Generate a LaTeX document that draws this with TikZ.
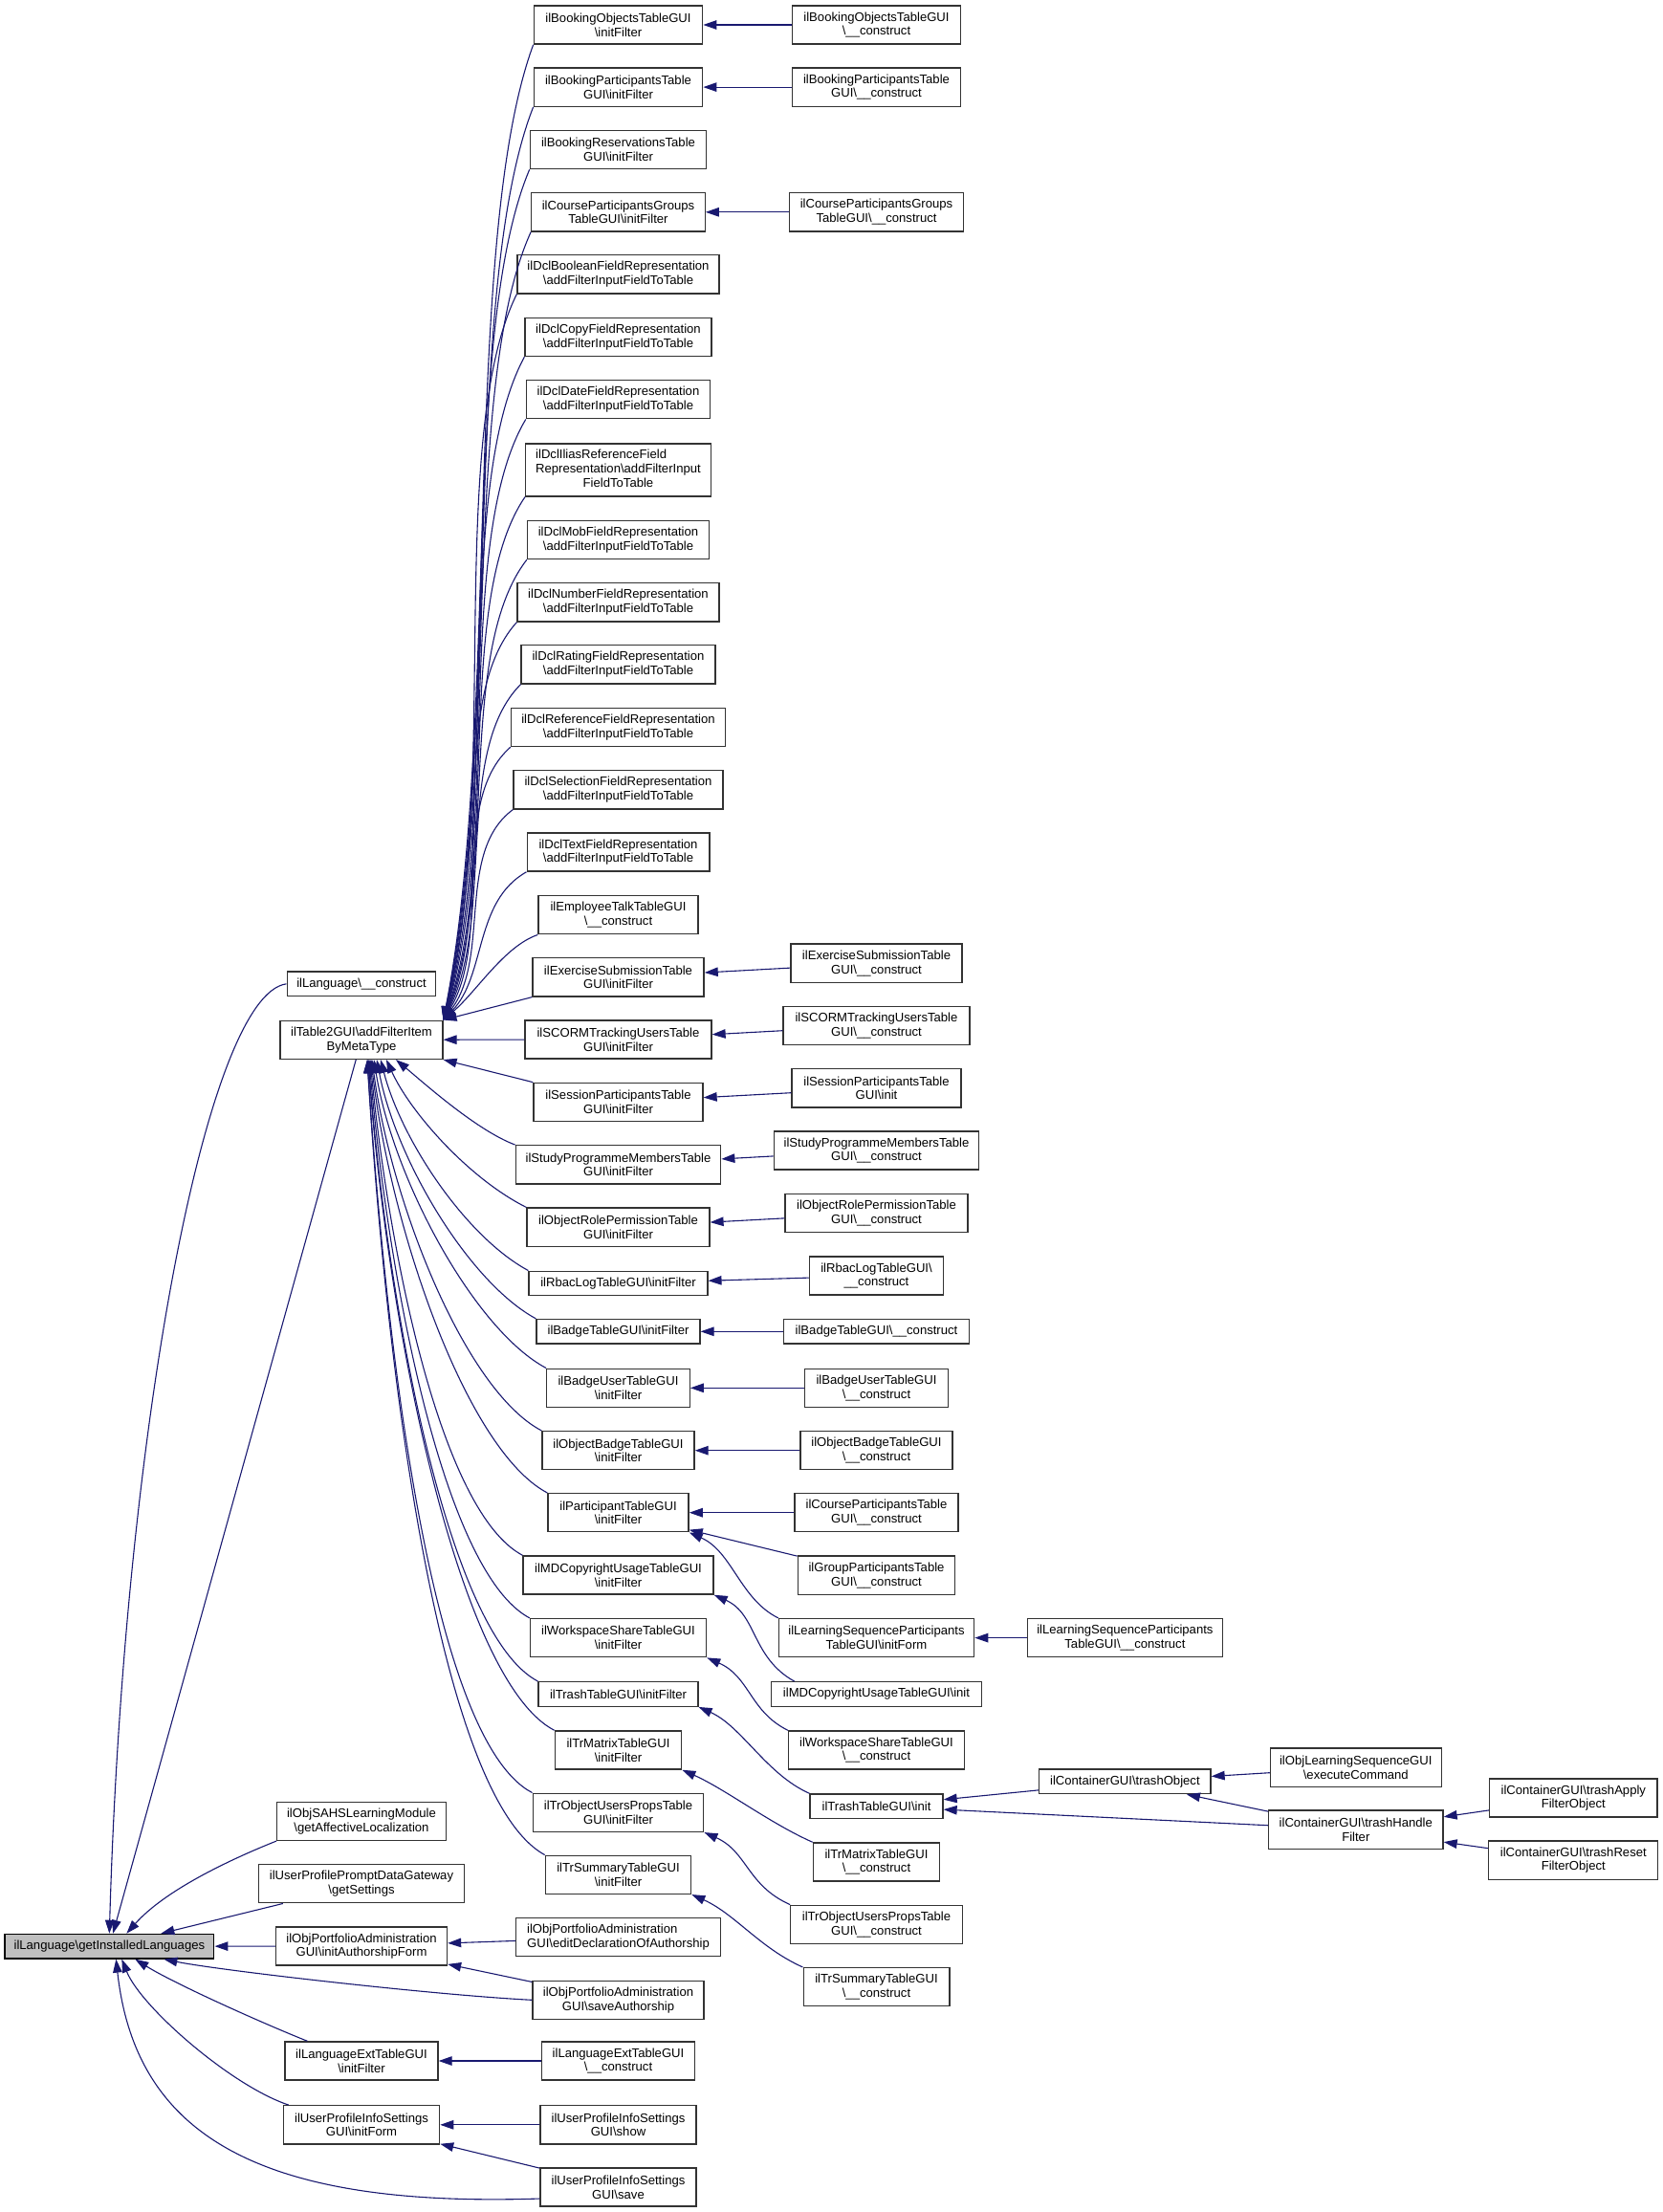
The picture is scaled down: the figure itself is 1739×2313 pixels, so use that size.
\documentclass[tikz,border=0pt]{standalone}
\usepackage{fontspec}
\setmainfont{Liberation Sans}
\usetikzlibrary{arrows.meta}
\definecolor{dxblue}{HTML}{191970}
\definecolor{dxgrey}{HTML}{BFBFBF}
\newcommand\bsl{\textbackslash}
\newcommand\dxfont{\fontsize{13.1}{14.7}\selectfont}
\tikzset{
  fn/.style={draw=black!80, line width=1.3pt, fill=white, inner sep=0pt, align=center, font=\dxfont},
  fnone/.style={fn, minimum height=25.6pt},
  fntwo/.style={fn, minimum height=40.2pt},
  fnthree/.style={fn, minimum height=55pt},
  call/.style={draw=dxblue, line width=1.1pt, -{Triangle[length=14pt,width=9.5pt]}},
}
\begin{document}
\begin{tikzpicture}[x=1pt,y=-1pt]
\useasboundingbox (0,0) rectangle (1739,2313);
% the function itself
\node[fnone, fill=dxgrey, draw=black, minimum width=218.8pt] (root) at (114.4,2035.2) {ilLanguage\bsl getInstalledLanguages};
% first level callers
\node[fnone, minimum width=155.6pt] (lang) at (378,1028.8) {ilLanguage\bsl\_\_construct};
\node[fntwo, minimum width=169.8pt] (t2gui) at (378,1087.3) {ilTable2GUI\bsl addFilterItem\\ByMetaType};
\node[fntwo, minimum width=176.6pt] (sahs) at (378,1904.3) {ilObjSAHSLearningModule\\\bsl getAffectiveLocalization};
\node[fntwo, minimum width=215pt] (upp) at (378,1969.7) {ilUserProfilePromptDataGateway\\\bsl getSettings};
\node[fntwo, minimum width=179pt] (auth) at (378,2035) {ilObjPortfolioAdministration\\GUI\bsl initAuthorshipForm};
\node[fntwo, minimum width=160pt] (lxF) at (378,2155) {ilLanguageExtTableGUI\\\bsl initFilter};
\node[fntwo, minimum width=163.2pt] (upiF) at (378,2221.8) {ilUserProfileInfoSettings\\GUI\bsl initForm};
% second level callers
\node[fntwo, minimum width=176.4pt] (bookobjF) at (646.5,26) {ilBookingObjectsTableGUI\\\bsl initFilter};
\node[fntwo, minimum width=176.4pt] (bookpartF) at (646.5,91.1) {ilBookingParticipantsTable\\GUI\bsl initFilter};
\node[fntwo, minimum width=184.3pt] (bookresF) at (646.5,156.5) {ilBookingReservationsTable\\GUI\bsl initFilter};
\node[fntwo, minimum width=181.4pt] (crsgrpF) at (646.5,221.8) {ilCourseParticipantsGroups\\TableGUI\bsl initFilter};
\node[fntwo, minimum width=211pt] (dclboolF) at (646.5,286.8) {ilDclBooleanFieldRepresentation\\\bsl addFilterInputFieldToTable};
\node[fntwo, minimum width=195pt] (dclcopyF) at (646.5,352.5) {ilDclCopyFieldRepresentation\\\bsl addFilterInputFieldToTable};
\node[fntwo, minimum width=192.1pt] (dcldateF) at (646.5,417.7) {ilDclDateFieldRepresentation\\\bsl addFilterInputFieldToTable};
\node[fnthree, minimum width=193.6pt] (dclilrefF) at (646.5,491.4) {\begin{tabular}{@{}l@{}}ilDclIliasReferenceField\\Representation\bsl addFilterInput\\\multicolumn{1}{@{}c@{}}{FieldToTable}\end{tabular}};
\node[fntwo, minimum width=190pt] (dclmobF) at (646.5,564.5) {ilDclMobFieldRepresentation\\\bsl addFilterInputFieldToTable};
\node[fntwo, minimum width=211pt] (dclnumF) at (646.5,629.9) {ilDclNumberFieldRepresentation\\\bsl addFilterInputFieldToTable};
\node[fntwo, minimum width=202.8pt] (dclratF) at (646.5,694.9) {ilDclRatingFieldRepresentation\\\bsl addFilterInputFieldToTable};
\node[fntwo, minimum width=223.9pt] (dclrefF) at (646.5,760.4) {ilDclReferenceFieldRepresentation\\\bsl addFilterInputFieldToTable};
\node[fntwo, minimum width=218.9pt] (dclselF) at (646.5,825.8) {ilDclSelectionFieldRepresentation\\\bsl addFilterInputFieldToTable};
\node[fntwo, minimum width=190.7pt] (dcltextF) at (646.5,891) {ilDclTextFieldRepresentation\\\bsl addFilterInputFieldToTable};
\node[fntwo, minimum width=167.1pt] (empF) at (646.5,956.7) {ilEmployeeTalkTableGUI\\\bsl\_\_construct};
\node[fntwo, minimum width=179.2pt] (exsubF) at (646.5,1021.9) {ilExerciseSubmissionTable\\GUI\bsl initFilter};
\node[fntwo, minimum width=195pt] (scormF) at (646.5,1087) {ilSCORMTrackingUsersTable\\GUI\bsl initFilter};
\node[fntwo, minimum width=177pt] (sessF) at (646.5,1152.4) {ilSessionParticipantsTable\\GUI\bsl initFilter};
\node[fntwo, minimum width=214.5pt] (studyF) at (646.5,1217.8) {ilStudyProgrammeMembersTable\\GUI\bsl initFilter};
\node[fntwo, minimum width=190.9pt] (orpF) at (646.5,1283.2) {ilObjectRolePermissionTable\\GUI\bsl initFilter};
\node[fnone, minimum width=186.8pt] (rbacF) at (646.5,1342) {ilRbacLogTableGUI\bsl initFilter};
\node[fnone, minimum width=170.9pt] (badgeF) at (646.5,1392.3) {ilBadgeTableGUI\bsl initFilter};
\node[fntwo, minimum width=149.5pt] (bduserF) at (646.5,1451.3) {ilBadgeUserTableGUI\\\bsl initFilter};
\node[fntwo, minimum width=159.1pt] (objbdF) at (646.5,1516.7) {ilObjectBadgeTableGUI\\\bsl initFilter};
\node[fntwo, minimum width=147.2pt] (partF) at (646.5,1581.7) {ilParticipantTableGUI\\\bsl initFilter};
\node[fntwo, minimum width=199pt] (mdcF) at (646.5,1647) {ilMDCopyrightUsageTableGUI\\\bsl initFilter};
\node[fntwo, minimum width=184.2pt] (wsF) at (646.5,1712.6) {ilWorkspaceShareTableGUI\\\bsl initFilter};
\node[fnone, minimum width=166.8pt] (trashF) at (646.5,1771.5) {ilTrashTableGUI\bsl initFilter};
\node[fntwo, minimum width=132.5pt] (trmF) at (646.5,1830) {ilTrMatrixTableGUI\\\bsl initFilter};
\node[fntwo, minimum width=178.6pt] (troF) at (646.5,1895.3) {ilTrObjectUsersPropsTable\\GUI\bsl initFilter};
\node[fntwo, minimum width=152.4pt] (trsF) at (646.5,1960.3) {ilTrSummaryTableGUI\\\bsl initFilter};
\node[fntwo, minimum width=213.4pt] (editA) at (646.5,2025.7) {\begin{tabular}{@{}l@{}}ilObjPortfolioAdministration\\GUI\bsl editDeclarationOfAuthorship\end{tabular}};
\node[fntwo, minimum width=179pt] (saveA) at (646.5,2091.3) {ilObjPortfolioAdministration\\GUI\bsl saveAuthorship};
\node[fntwo, minimum width=160.5pt] (lxC) at (646.5,2155) {ilLanguageExtTableGUI\\\bsl\_\_construct};
\node[fntwo, minimum width=163.2pt] (upiShow) at (646.5,2221.8) {ilUserProfileInfoSettings\\GUI\bsl show};
\node[fntwo, minimum width=163.2pt] (upiSave) at (646.5,2287) {ilUserProfileInfoSettings\\GUI\bsl save};
% third level callers
\node[fntwo, minimum width=176.4pt] (bookobjC) at (916.5,26) {ilBookingObjectsTableGUI\\\bsl\_\_construct};
\node[fntwo, minimum width=176.4pt] (bookpartC) at (916.5,91.1) {ilBookingParticipantsTable\\GUI\bsl\_\_construct};
\node[fntwo, minimum width=181.4pt] (crsgrpC) at (916.5,221.8) {ilCourseParticipantsGroups\\TableGUI\bsl\_\_construct};
\node[fntwo, minimum width=178.9pt] (exsubC) at (916.5,1007.2) {ilExerciseSubmissionTable\\GUI\bsl\_\_construct};
\node[fntwo, minimum width=195pt] (scormC) at (916.5,1072.4) {ilSCORMTrackingUsersTable\\GUI\bsl\_\_construct};
\node[fntwo, minimum width=177pt] (sessI) at (916.5,1137.9) {ilSessionParticipantsTable\\GUI\bsl init};
\node[fntwo, minimum width=214.6pt] (studyC) at (916.5,1203) {ilStudyProgrammeMembersTable\\GUI\bsl\_\_construct};
\node[fntwo, minimum width=191pt] (orpC) at (916.5,1268.7) {ilObjectRolePermissionTable\\GUI\bsl\_\_construct};
\node[fntwo, minimum width=140.2pt] (rbacC) at (916.5,1334) {ilRbacLogTableGUI\bsl\\\_\_construct};
\node[fnone, minimum width=194.2pt] (badgeC) at (916.5,1392.3) {ilBadgeTableGUI\bsl\_\_construct};
\node[fntwo, minimum width=149.4pt] (bduserC) at (916.5,1451.3) {ilBadgeUserTableGUI\\\bsl\_\_construct};
\node[fntwo, minimum width=159pt] (objbdC) at (916.5,1516.7) {ilObjectBadgeTableGUI\\\bsl\_\_construct};
\node[fntwo, minimum width=171pt] (crspartC) at (916.5,1581.7) {ilCourseParticipantsTable\\GUI\bsl\_\_construct};
\node[fntwo, minimum width=164.2pt] (grppartC) at (916.5,1647.2) {ilGroupParticipantsTable\\GUI\bsl\_\_construct};
\node[fntwo, minimum width=204.2pt] (lspF) at (916.5,1712.6) {ilLearningSequenceParticipants\\TableGUI\bsl initForm};
\node[fnone, minimum width=220.4pt] (mdcI) at (916.5,1771.5) {ilMDCopyrightUsageTableGUI\bsl init};
\node[fntwo, minimum width=184.2pt] (wsC) at (916.5,1830) {ilWorkspaceShareTableGUI\\\bsl\_\_construct};
\node[fnone, minimum width=139pt] (trashI) at (916.5,1888.7) {ilTrashTableGUI\bsl init};
\node[fntwo, minimum width=132.4pt] (trmC) at (916.5,1947) {ilTrMatrixTableGUI\\\bsl\_\_construct};
\node[fntwo, minimum width=179.4pt] (troC) at (916.5,2012.3) {ilTrObjectUsersPropsTable\\GUI\bsl\_\_construct};
\node[fntwo, minimum width=152.7pt] (trsC) at (916.5,2077.7) {ilTrSummaryTableGUI\\\bsl\_\_construct};
% deeper callers
\node[fntwo, minimum width=204.2pt] (lspC) at (1176.4,1712.6) {ilLearningSequenceParticipants\\TableGUI\bsl\_\_construct};
\node[fnone, minimum width=179.2pt] (trashObj) at (1176.4,1862.9) {ilContainerGUI\bsl trashObject};
\node[fntwo, minimum width=178.8pt] (execCmd) at (1417.8,1848.2) {ilObjLearningSequenceGUI\\\bsl executeCommand};
\node[fntwo, minimum width=182.4pt] (trashHF) at (1417.8,1913.2) {ilContainerGUI\bsl trashHandle\\Filter};
\node[fntwo, minimum width=175.6pt] (trashApply) at (1645.3,1880) {ilContainerGUI\bsl trashApply\\FilterObject};
\node[fntwo, minimum width=177pt] (trashReset) at (1645.3,1945.2) {ilContainerGUI\bsl trashReset\\FilterObject};

% calls into getInstalledLanguages
\draw[call] (lang.west) .. controls +(-84,11) and +(15,-522) .. ([xshift=110pt]root.north west);
\draw[call] (t2gui) -- (root);
\draw[call] (sahs.south west) .. controls +(-50,20) and +(40,-45) .. ([xshift=128pt]root.north west);
\draw[call] ([xshift=26pt]upp.south west) -- ([xshift=164pt]root.north west);
\draw[call] (auth) -- (root);
\draw[call] (saveA.west) .. controls +(-100,-5) and +(60,12) .. ([xshift=167pt]root.south west);
\draw[call] ([xshift=24pt]lxF.north west) .. controls +(-50,-20) and +(40,25) .. ([xshift=137pt]root.south west);
\draw[call] ([xshift=6pt]upiF.north west) .. controls +(-60,-20) and +(20,50) .. ([xshift=123pt]root.south west);
\draw[call] ([yshift=-12pt]upiSave.west) .. controls +(-300,10) and +(20,180) .. ([xshift=117pt]root.south west);

% calls into addFilterItemByMetaType, from above
\draw[call] (bookobjF.south west) .. controls +(-75,204) and +(60,-306) .. (t2gui.north east);
\draw[call] (bookpartF.south west) .. controls +(-75,191) and +(60,-287) .. (t2gui.north east);
\draw[call] (bookresF.south west) .. controls +(-75,178) and +(60,-267) .. (t2gui.north east);
\draw[call] (crsgrpF.south west) .. controls +(-75,165) and +(60,-248) .. (t2gui.north east);
\draw[call] (dclboolF.south west) .. controls +(-75,152) and +(60,-228) .. (t2gui.north east);
\draw[call] (dclcopyF.south west) .. controls +(-75,139) and +(60,-209) .. (t2gui.north east);
\draw[call] (dcldateF.south west) .. controls +(-75,126) and +(60,-189) .. (t2gui.north east);
\draw[call] (dclilrefF.south west) .. controls +(-75,110) and +(60,-165) .. (t2gui.north east);
\draw[call] (dclmobF.south west) .. controls +(-75,97) and +(58,-145) .. (t2gui.north east);
\draw[call] (dclnumF.south west) .. controls +(-75,83) and +(56,-125) .. (t2gui.north east);
\draw[call] (dclratF.south west) .. controls +(-70,70) and +(54,-106) .. (t2gui.north east);
\draw[call] (dclrefF.south west) .. controls +(-65,57) and +(52,-86) .. (t2gui.north east);
\draw[call] (dclselF.south west) .. controls +(-60,44) and +(50,-66) .. (t2gui.north east);
\draw[call] (dcltextF.south west) .. controls +(-55,31) and +(45,-47) .. (t2gui.north east);
\draw[call] (empF.south west) .. controls +(-35,12) and +(35,-30) .. (t2gui.north east);
\draw[call] (exsubF.south west) -- (t2gui.north east);
\draw[call] (scormF) -- (t2gui);
\draw[call] (sessF.north west) -- (t2gui.south east);
% calls into addFilterItemByMetaType, from below
\draw[call] (studyF.north west) .. controls +(-40,-15) and +(30,25) .. ([xshift=36pt]t2gui.south);
\draw[call] (orpF.north west) .. controls +(-60,-30) and +(25,55) .. ([xshift=26pt]t2gui.south);
\draw[call] (rbacF.north west) .. controls +(-65,-35) and +(22,85) .. ([xshift=20pt]t2gui.south);
\draw[call] (badgeF.north west) .. controls +(-70,-38) and +(20,105) .. ([xshift=16pt]t2gui.south);
\draw[call] (bduserF.north west) .. controls +(-75,-40) and +(20,125) .. ([xshift=13pt]t2gui.south);
\draw[call] (objbdF.north west) .. controls +(-80,-42) and +(20,150) .. ([xshift=11pt]t2gui.south);
\draw[call] (partF.north west) .. controls +(-85,-45) and +(20,175) .. ([xshift=10pt]t2gui.south);
\draw[call] (mdcF.north west) .. controls +(-85,-45) and +(20,205) .. ([xshift=9pt]t2gui.south);
\draw[call] (wsF.north west) .. controls +(-90,-48) and +(20,230) .. ([xshift=8pt]t2gui.south);
\draw[call] (trashF.north west) .. controls +(-95,-50) and +(20,255) .. ([xshift=7pt]t2gui.south);
\draw[call] (trmF.north west) .. controls +(-100,-52) and +(20,280) .. ([xshift=7pt]t2gui.south);
\draw[call] (troF.north west) .. controls +(-105,-55) and +(20,305) .. ([xshift=6pt]t2gui.south);
\draw[call] (trsF.north west) .. controls +(-110,-60) and +(20,330) .. ([xshift=6pt]t2gui.south);

% second level
\draw[call] (editA) -- (auth);
\draw[call] (saveA) -- (auth);
\draw[call] (lxC) -- (lxF);
\draw[call] (upiShow) -- (upiF);
\draw[call] (upiSave) -- (upiF);

% third level
\draw[call] (bookobjC) -- (bookobjF);
\draw[call] (bookpartC) -- (bookpartF);
\draw[call] (crsgrpC) -- (crsgrpF);
\draw[call] (exsubC) -- (exsubF);
\draw[call] (scormC) -- (scormF);
\draw[call] (sessI) -- (sessF);
\draw[call] (studyC) -- (studyF);
\draw[call] (orpC) -- (orpF);
\draw[call] (rbacC) -- (rbacF);
\draw[call] (badgeC) -- (badgeF);
\draw[call] (bduserC) -- (bduserF);
\draw[call] (objbdC) -- (objbdF);
\draw[call] (crspartC) -- (partF);
\draw[call] (grppartC) -- (partF);
\draw[call] (lspF.north west) .. controls +(-40,-20) and +(45,20) .. (partF.south east);
\draw[call] ([xshift=25pt]mdcI.north west) .. controls +(-45,-25) and +(45,20) .. (mdcF.south east);
\draw[call] (wsC.north west) .. controls +(-40,-20) and +(45,20) .. (wsF.south east);
\draw[call] (trashI.north west) .. controls +(-45,-20) and +(45,20) .. (trashF.south east);
\draw[call] (trmC.north west) .. controls +(-45,-20) and +(45,20) .. (trmF.south east);
\draw[call] (troC.north west) .. controls +(-45,-20) and +(45,20) .. (troF.south east);
\draw[call] (trsC.north west) .. controls +(-45,-20) and +(45,20) .. (trsF.south east);

% deeper
\draw[call] (lspC) -- (lspF);
\draw[call] (trashObj) -- (trashI);
\draw[call] (trashHF) -- (trashI);
\draw[call] (execCmd) -- (trashObj);
\draw[call] (trashHF) -- (trashObj);
\draw[call] (trashApply) -- (trashHF);
\draw[call] (trashReset) -- (trashHF);
\end{tikzpicture}
\end{document}
